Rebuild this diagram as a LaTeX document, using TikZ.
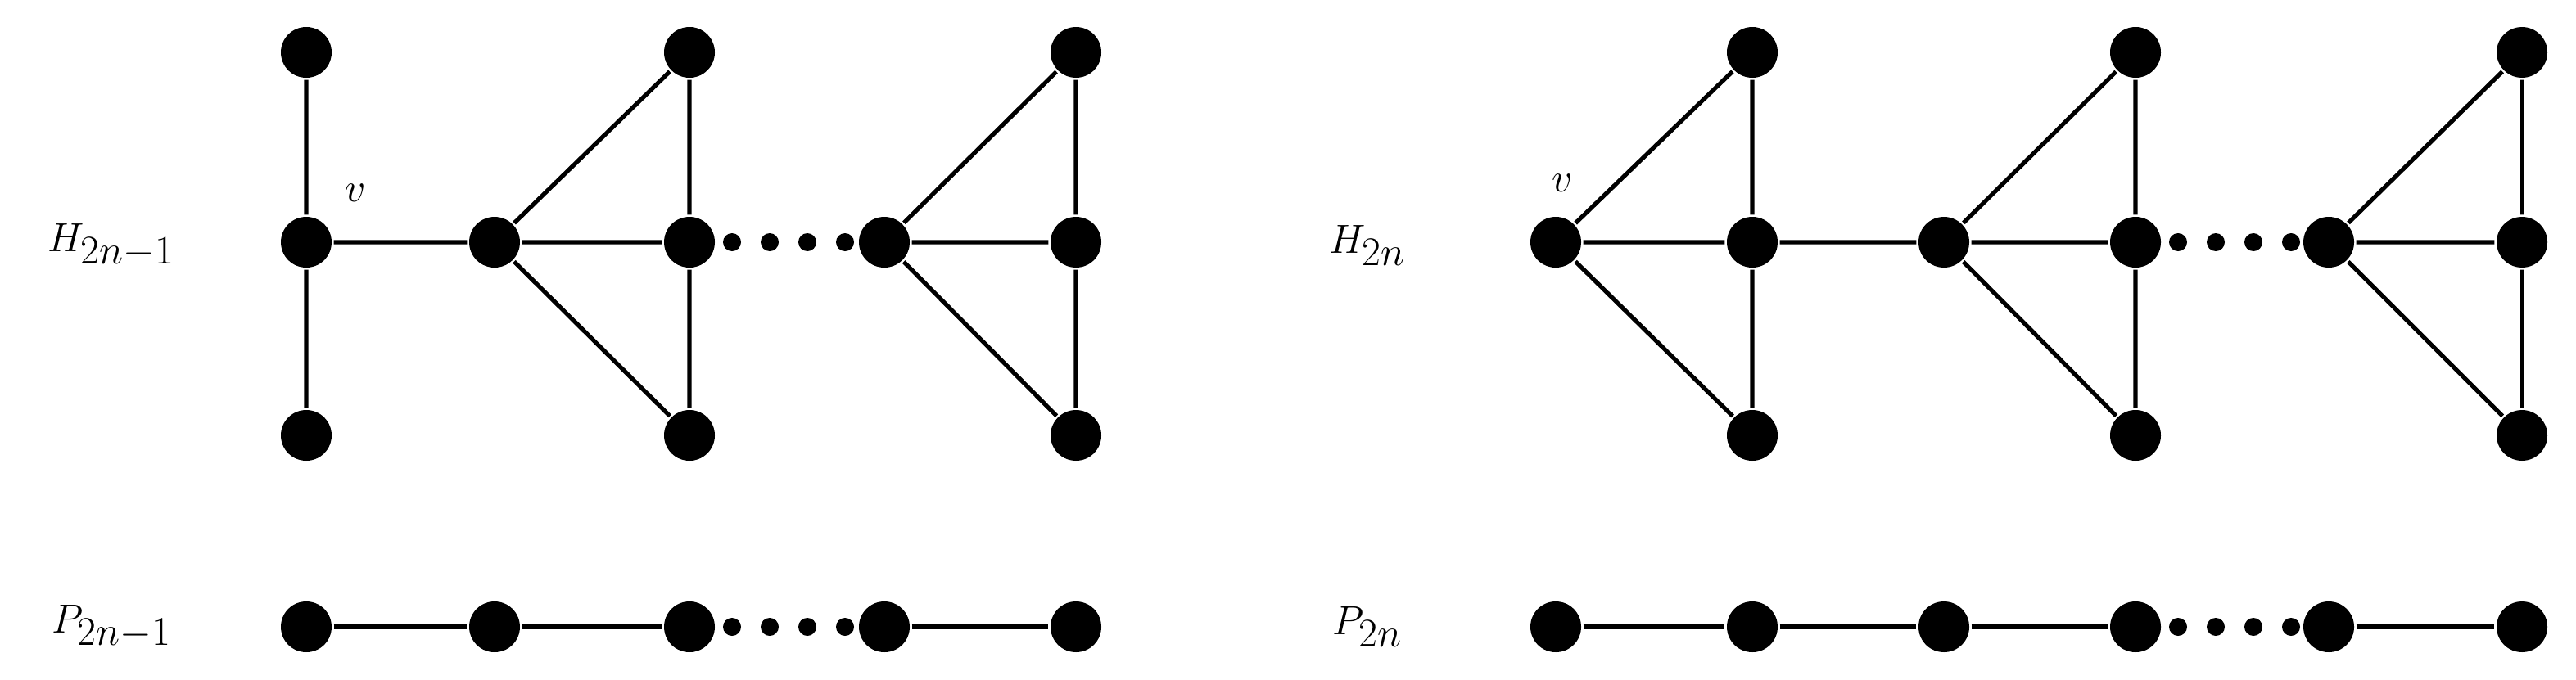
\documentclass[tikz,border=0pt]{standalone}
\begin{document}
\begin{tikzpicture}[x=1pt,y=-1pt,
  vtx/.style={circle,fill=black,inner sep=0pt,minimum size=31pt},
  dt/.style={circle,fill=black,inner sep=0pt,minimum size=11pt},
  lab/.style={font=\fontsize{44}{50}\selectfont},
  every path/.style={line width=2.6pt}]
\useasboundingbox (0,0) rectangle (1573,415);
% left H
\foreach \n/\x/\y in {a1/187/32,a2/187/148,a3/187/266,b/302/148,c1/421/32,c2/421/148,c3/421/266,d/540/148,e1/657/32,e2/657/148,e3/657/266}
  \node[vtx] (\n) at (\x,\y) {};
\draw (a1)--(a2)--(a3) (a2)--(b) (b)--(c1) (b)--(c2) (b)--(c3) (c1)--(c2)--(c3)
  (d)--(e1) (d)--(e2) (d)--(e3) (e1)--(e2)--(e3);
\foreach \x [count=\i] in {447,470,493,516} \node[dt] (ld\i) at (\x,148) {};
\node[lab] (v1) at (217,118) {$v$};
\node[lab] (lh) at (68,150) {$H_{2n-1}$};
% left P
\foreach \n/\x in {p1/187,p2/302,p3/421,p4/540,p5/657} \node[vtx] (\n) at (\x,383) {};
\draw (p1)--(p2)--(p3) (p4)--(p5);
\foreach \x [count=\i] in {447,470,493,516} \node[dt] (lpd\i) at (\x,383) {};
\node[lab] (lp) at (68,383) {$P_{2n-1}$};
% right H
\foreach \n/\x/\y in {v/950/148,f1/1070/32,f2/1070/148,f3/1070/266,g/1187/148,h1/1304/32,h2/1304/148,h3/1304/266,i/1422/148,j1/1540/32,j2/1540/148,j3/1540/266}
  \node[vtx] (\n) at (\x,\y) {};
\draw (v)--(f1) (v)--(f2) (v)--(f3) (f1)--(f2)--(f3) (f2)--(g)
  (g)--(h1) (g)--(h2) (g)--(h3) (h1)--(h2)--(h3)
  (i)--(j1) (i)--(j2) (i)--(j3) (j1)--(j2)--(j3);
\foreach \x [count=\i] in {1330,1353,1376,1399} \node[dt] (rd\i) at (\x,148) {};
\node[lab] (v2) at (954,112) {$v$};
\node[lab] (rh) at (835,150) {$H_{2n}$};
% right P
\foreach \n/\x in {q1/950,q2/1070,q3/1187,q4/1304,q5/1422,q6/1540} \node[vtx] (\n) at (\x,383) {};
\draw (q1)--(q2)--(q3)--(q4) (q5)--(q6);
\foreach \x [count=\i] in {1330,1353,1376,1399} \node[dt] (rpd\i) at (\x,383) {};
\node[lab] (rp) at (835,383) {$P_{2n}$};
\end{tikzpicture}
\end{document}
